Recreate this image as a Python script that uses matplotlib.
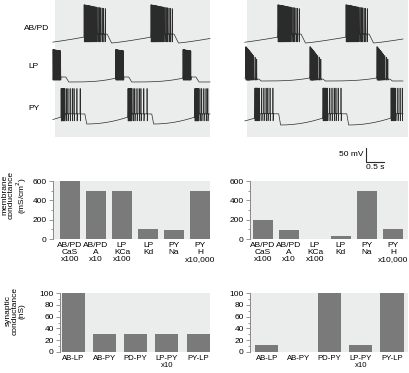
import numpy as np
import matplotlib
matplotlib.use("Agg")
from matplotlib import pyplot as plt
from matplotlib.ticker import MultipleLocator

plt.rcParams['font.family'] = ['Liberation Sans', 'DejaVu Sans']

W, H = 409, 373

# burst onsets (s)
left_ab_onsets = [0.81, 2.67]
left_lp_onsets = [-0.06, 1.69, 3.56]
left_py_onsets = [0.17, 2.03, 3.89]
right_ab_onsets = [0.86, 2.75]
right_lp_onsets = [-0.03, 1.75, 3.61]
right_py_onsets = [0.22, 2.11, 4.00]

# spike times inside a burst, relative to onset (s)
ab_spikes = [0.000, 0.015, 0.030, 0.045, 0.060, 0.075, 0.090, 0.105, 0.120, 0.135,
             0.150, 0.170, 0.190, 0.210, 0.235, 0.260, 0.290, 0.320, 0.350, 0.385,
             0.420, 0.460, 0.500, 0.545, 0.590]
lp_left_spikes = [0.000, 0.012, 0.024, 0.036, 0.048, 0.060, 0.072, 0.084, 0.096, 0.108,
                  0.120, 0.132, 0.144, 0.156, 0.168, 0.180, 0.192, 0.204, 0.216]
lp_right_spikes = [0.000, 0.010, 0.020, 0.030, 0.040, 0.050, 0.062, 0.075, 0.090, 0.105,
                   0.125, 0.150, 0.180, 0.215, 0.255, 0.300]
py_left_spikes = [0.000, 0.012, 0.024, 0.036, 0.050, 0.065, 0.080, 0.100, 0.140, 0.190,
                  0.250, 0.310, 0.360, 0.440, 0.530]
py_right_spikes = [0.000, 0.012, 0.024, 0.036, 0.050, 0.065, 0.080, 0.100, 0.130, 0.190,
                   0.250, 0.310, 0.360, 0.420, 0.500]

# membrane levels (mV)
ab_lv = dict(trough=-65, pre=-44, plateau=-33, peak=74, floor=-61, peak_drop=14,
             plat_end=0.64, drop=0.12, curv=1.2)
lp_left_lv = dict(trough=-65, pre=-51, plateau=-47, peak=53, floor=-58, peak_drop=5,
                  plat_end=0.36, drop=0.08, curv=3.0)
lp_right_lv = dict(trough=-65, pre=-54, plateau=-58, peak=60, floor=-62, peak_drop=45,
                   plat_end=0.36, drop=0.06, curv=3.0)
py_left_lv = dict(trough=-65, pre=-40, plateau=-29, peak=64, floor=-54, peak_drop=0,
                  plat_end=0.66, drop=0.05, curv=2.0)
py_right_lv = dict(trough=-65, pre=-40, plateau=-25, peak=69, floor=-50, peak_drop=0,
                   plat_end=0.66, drop=0.05, curv=2.0)

# bar charts
mem_labels = ["AB/PD\nCaS\nx100", "AB/PD\nA\nx10", "LP\nKCa\nx100",
              "LP\nKd", "PY\nNa", "PY\nH\nx10,000"]
mem_left = [600, 500, 500, 100, 95, 500]
mem_right = [200, 90, 0, 30, 500, 100]
syn_labels = ["AB-LP", "AB-PY", "PD-PY", "LP-PY\nx10", "PY-LP"]
syn_left = [100, 30, 30, 30, 30]
syn_right = [12, 0, 100, 12, 100]

MV = 14 / 50.0  # px per mV
BG = '#ebeded'
BAR = '#7a7a7a'
INK = '#2b2b2b'


def box(x0, y0, x1, y1):
    return [x0 / W, 1 - y1 / H, (x1 - x0) / W, (y1 - y0) / H]


def trace(t, onsets, spikes, lv):
    on = np.asarray(onsets, float)
    per = np.diff(on).mean()
    on = np.concatenate([[on[0] - per], on, [on[-1] + per]])
    idx = np.searchsorted(on, t, side='right') - 1
    start, nxt = on[idx], on[idx + 1]
    dt = t - start
    pe, dr = lv['plat_end'], lv['drop']
    v = np.empty_like(t)
    m1 = dt < pe
    v[m1] = lv['plateau']
    m2 = (dt >= pe) & (dt < pe + dr)
    v[m2] = lv['plateau'] + (lv['trough'] - lv['plateau']) * (dt[m2] - pe) / dr
    m3 = dt >= pe + dr
    s = (dt[m3] - pe - dr) / (nxt[m3] - start[m3] - pe - dr)
    v[m3] = lv['trough'] + (lv['pre'] - lv['trough']) * np.clip(s, 0, 1) ** lv['curv']
    last = max(spikes)
    for o in on:
        for sp in spikes:
            ts = o + sp
            pk = lv['peak'] - lv['peak_drop'] * sp / last
            g1 = np.exp(-((t - ts) / 0.0022) ** 2)
            v = v + (pk - v) * g1
            g2 = np.exp(-((t - ts - 0.005) / 0.0025) ** 2)
            v = v - (v - lv['floor']) * g2
    return v


fig = plt.figure(figsize=(W / 100, H / 100), dpi=100)

panels = [
    (box(55, 0, 210, 137), 4.31, [(left_ab_onsets, ab_spikes, ab_lv, 43),
                                  (left_lp_onsets, lp_left_spikes, lp_left_lv, 82),
                                  (left_py_onsets, py_left_spikes, py_left_lv, 124)]),
    (box(247, 0, 408, 137), 4.47, [(right_ab_onsets, ab_spikes, ab_lv, 43),
                                   (right_lp_onsets, lp_right_spikes, lp_right_lv, 81),
                                   (right_py_onsets, py_right_spikes, py_right_lv, 125)]),
]
for i, (pos, tmax, rows) in enumerate(panels):
    ax = fig.add_axes(pos)
    ax.set_facecolor(BG)
    tend = tmax - 0.14 if i == 1 else tmax
    t = np.arange(-0.06, tend, 0.0005)
    for onsets, spikes, lv, base in rows:
        v = trace(t, onsets, spikes, lv)
        ax.plot(t, base - (v - lv['trough']) * MV, color=INK, lw=0.5, clip_on=False)
    ax.set_xlim(0, tmax)
    ax.set_ylim(137, 0)
    ax.set_xticks([])
    ax.set_yticks([])
    for sp in ax.spines.values():
        sp.set_visible(False)
    if i == 1:
        x0 = (366 - 247) / 36.0
        ax.plot([x0, x0, x0 + 0.5], [162 - 50 * MV, 162, 162], color=INK, lw=0.8,
                clip_on=False)
        ax.text(x0 - 0.08, 155, "50 mV", ha='right', va='center', fontsize=6)
        ax.text(x0 + 0.25, 164, "0.5 s", ha='center', va='top', fontsize=6)

for name, y in [("AB/PD", 28), ("LP", 67), ("PY", 108)]:
    fig.text(24 / W if name == "AB/PD" else 28 / W, 1 - y / H, name,
             ha='left', va='center', fontsize=6)


def bars(pos, xlim, vals, labels, ymax, major, minor, width, lsize):
    ax = fig.add_axes(pos)
    ax.set_facecolor(BG)
    x = np.arange(len(vals))
    ax.bar(x, vals, width=width, color=BAR)
    ax.set_xlim(*xlim)
    ax.set_ylim(0, ymax)
    ax.set_xticks(x)
    ax.set_xticklabels(labels, fontsize=lsize, linespacing=1.05)
    ax.tick_params(axis='x', length=0, pad=2)
    ax.yaxis.set_major_locator(MultipleLocator(major))
    ax.yaxis.set_minor_locator(MultipleLocator(minor))
    ax.tick_params(axis='y', which='major', length=3, width=0.6, color='#888888',
                   labelsize=6, pad=1.5)
    ax.tick_params(axis='y', which='minor', length=1.5, width=0.6, color='#888888')
    for k in ['top', 'right', 'bottom']:
        ax.spines[k].set_visible(False)
    ax.spines['left'].set_color('#888888')
    ax.spines['left'].set_linewidth(0.7)
    return ax


bars(box(53, 181, 210, 239), (-0.65, 5.38), mem_left, mem_labels, 600, 200, 100, 0.77, 6)
bars(box(250, 181, 408, 239), (-0.5, 5.58), mem_right, mem_labels, 600, 200, 100, 0.77, 6)
bars(box(60, 293, 210, 352), (-0.42, 4.38), syn_left, syn_labels, 100, 20, 10, 0.74, 5.6)
bars(box(250, 293, 408, 352), (-0.54, 4.51), syn_right, syn_labels, 100, 20, 10, 0.74, 5.6)

fig.text(15 / W, 1 - 195 / H, "membrane\nconductance\n(mS/cm$^2$)", rotation=90,
         ha='center', va='center', fontsize=6, linespacing=0.95)
fig.text(15 / W, 1 - 311 / H, "synaptic\nconductance\n(nS)", rotation=90,
         ha='center', va='center', fontsize=6, linespacing=0.95)

fig.savefig("out.png", dpi=100)
